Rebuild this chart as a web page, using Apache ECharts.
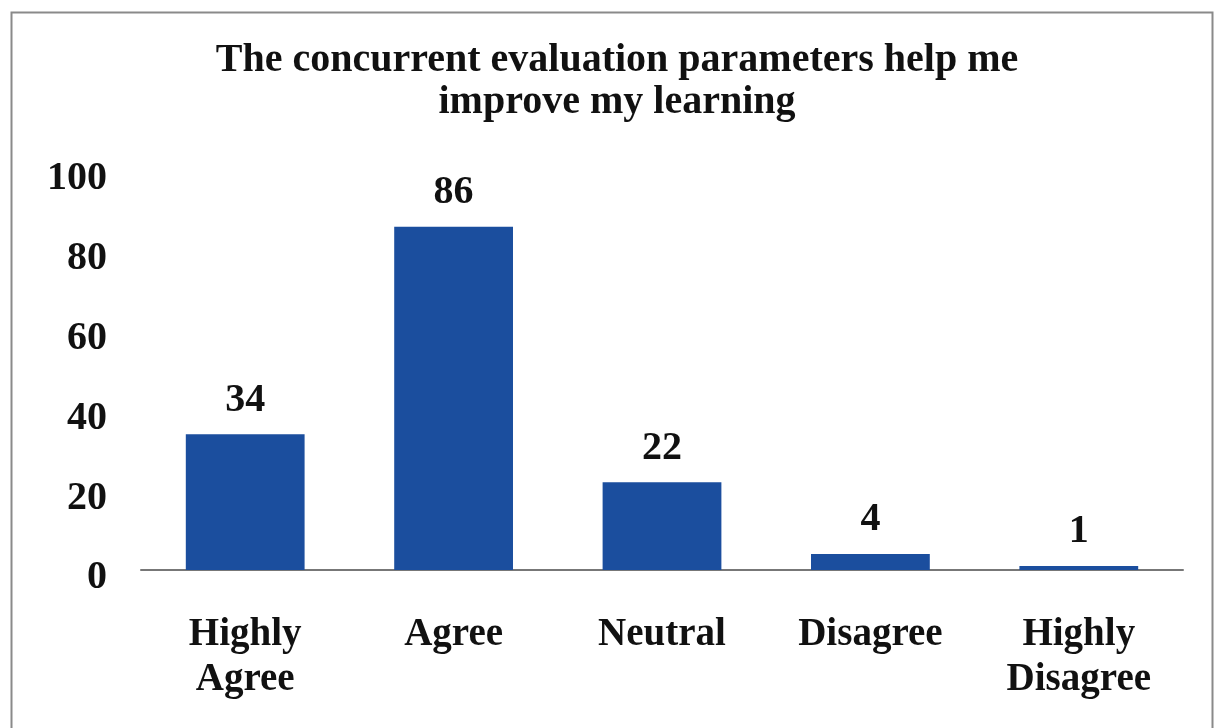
<!DOCTYPE html>
<html><head><meta charset="utf-8">
<script src="https://cdn.jsdelivr.net/npm/echarts@6/dist/echarts.min.js"></script>
<style>html,body{margin:0;padding:0;background:#fff;}#c{width:1215px;height:728px;}</style>
</head><body><div id="c"></div>
<script>
const categories = ['Highly\nAgree', 'Agree', 'Neutral', 'Disagree', 'Highly\nDisagree'];
const values = [34, 86, 22, 4, 1];
const yTicks = [0, 20, 40, 60, 80, 100];
const titleText = 'The concurrent evaluation parameters help me\nimprove my learning';
const font = '"Liberation Serif", "Times New Roman", serif';
const chart = echarts.init(document.getElementById('c'));
chart.setOption({
  backgroundColor: '#fff',
  animation: false,
  graphic: [{type:'rect', left:9, top:10, shape:{width:1201, height:740}, style:{fill:'none', stroke:'#8a8a8a', lineWidth:2}, silent:true}],
  title: {text: titleText, left: 612, textAlign:'center', top: 35,
    textStyle:{fontFamily:font, fontWeight:'bold', fontSize:40, color:'#111', lineHeight:42}},
  grid: {left:141, right:32, top:171, bottom:158, containLabel:false},
  xAxis: {type:'category', data: categories,
    axisLine:{show:true, lineStyle:{color:'#777', width:2}},
    axisTick:{show:false},
    axisLabel:{fontFamily:font, fontWeight:'bold', fontSize:39, color:'#111', lineHeight:45, margin:42}},
  yAxis: {type:'value', min: yTicks[0], max: yTicks[yTicks.length-1], interval: 20,
    axisLine:{show:false}, axisTick:{show:false}, splitLine:{show:false},
    axisLabel:{margin:34, formatter:'{a|{value}}',
      rich:{a:{fontFamily:font, fontWeight:'bold', fontSize:40, color:'#111', padding:[16,0,0,0]}}}},
  series: [{type:'bar', data: values, barWidth:'57%',
    itemStyle:{color:'#1b4e9e'},
    label:{show:true, position:'top', distance:14, fontFamily:font, fontWeight:'bold', fontSize:40, color:'#111'}}]
});
</script></body></html>
